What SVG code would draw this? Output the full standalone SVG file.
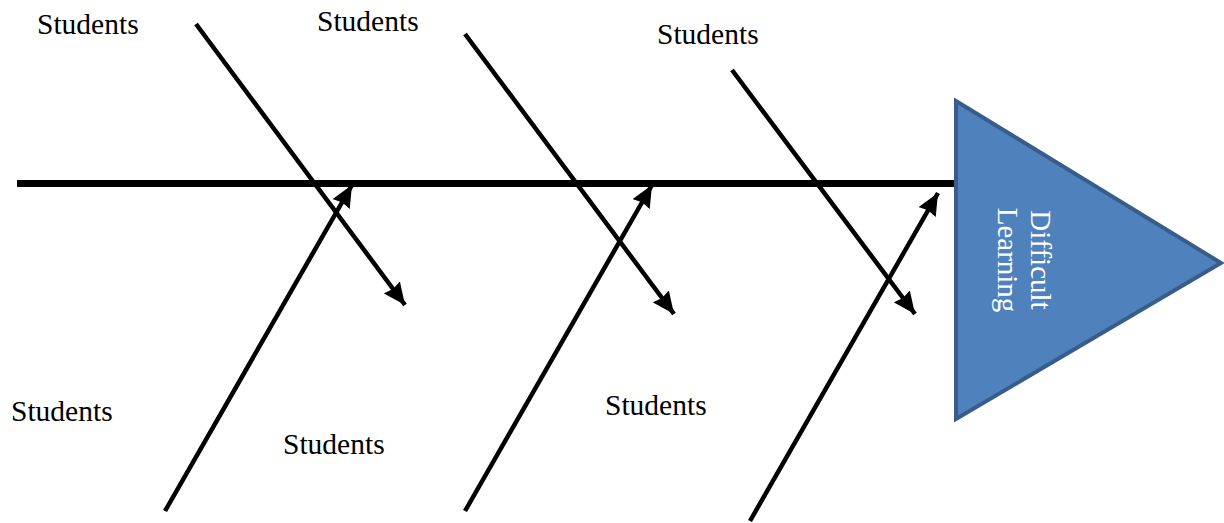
<svg xmlns="http://www.w3.org/2000/svg" width="1224" height="523" viewBox="0 0 1224 523">
  <defs>
    <marker id="ah" markerUnits="userSpaceOnUse" markerWidth="24" markerHeight="20" refX="22" refY="10" orient="auto">
      <path d="M0,0 L22,10 L0,20 L2,10 Z" fill="#000"/>
    </marker>
  </defs>
  <style>
    .bone { stroke:#000; stroke-width:4.5; fill:none; }
    .lbl { font-family:"Liberation Serif","Times New Roman",serif; font-size:29.5px; fill:#000; }
    .head { fill:#4f81bd; stroke:#385d8a; stroke-width:4; }
    .headtxt { font-family:"Liberation Serif","Times New Roman",serif; font-size:29px; fill:#fff; }
  </style>
  <rect width="1224" height="523" fill="#fff"/>
  <g id="connectors">
    <line x1="17" y1="183.5" x2="956" y2="183.5" stroke="#000" stroke-width="7"/>
    <line class="bone" x1="196" y1="24" x2="405" y2="305" marker-end="url(#ah)"/>
    <line class="bone" x1="465" y1="34" x2="674" y2="314" marker-end="url(#ah)"/>
    <line class="bone" x1="732" y1="70" x2="915" y2="314" marker-end="url(#ah)"/>
    <line class="bone" x1="165" y1="511" x2="352" y2="185" marker-end="url(#ah)"/>
    <line class="bone" x1="465" y1="511" x2="652" y2="185" marker-end="url(#ah)"/>
    <line class="bone" x1="750" y1="521" x2="938" y2="193" marker-end="url(#ah)"/>
  </g>
  <g id="head">
    <polygon class="head" points="956,101 1221,263 956,419"/>
    <g transform="translate(1014,260) rotate(90)">
      <text class="headtxt" x="0" y="-17" text-anchor="middle">Difficult</text>
      <text class="headtxt" x="0" y="16" text-anchor="middle">Learning</text>
    </g>
  </g>
  <g id="label1"><text class="lbl" x="37" y="34">Students</text></g>
  <g id="label2"><text class="lbl" x="317" y="31">Students</text></g>
  <g id="label3"><text class="lbl" x="657" y="44">Students</text></g>
  <g id="label4"><text class="lbl" x="11" y="421">Students</text></g>
  <g id="label5"><text class="lbl" x="283" y="454">Students</text></g>
  <g id="label6"><text class="lbl" x="605" y="415">Students</text></g>
</svg>
